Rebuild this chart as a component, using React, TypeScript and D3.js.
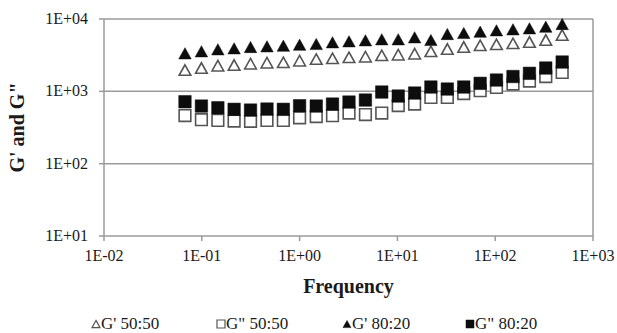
import React from "react";
import * as d3 from "d3";

// frequency values (x)
const frequency = [
  0.0673, 0.0991, 0.146, 0.214, 0.315, 0.464, 0.682, 1.0, 1.48, 2.17, 3.2, 4.71,
  6.92, 10.2, 15.0, 22.0, 32.4, 47.7, 70.2, 103, 152, 224, 329, 484,
];

const gPrime5050 = [
  1971, 2101, 2260, 2311, 2408, 2487, 2518, 2650, 2797, 2860, 2953, 3010,
  3147, 3208, 3312, 3575, 3847, 4100, 4327, 4468, 4612, 4808, 5124, 6006,
];
const gDouble5050 = [
  463, 405, 397, 388, 385, 397, 397, 431, 448, 460, 501, 478,
  501, 636, 667, 823, 823, 932, 1019, 1132, 1262, 1388, 1602, 1826,
];
const gPrime8020 = [
  3355, 3575, 3810, 3932, 4100, 4193, 4274, 4412, 4512, 4762, 4917, 5076,
  5240, 5240, 5584, 5124, 6201, 6403, 6673, 6977, 7202, 7436, 7826, 8526,
];
const gDouble8020 = [
  718, 626, 593, 564, 551, 569, 564, 632, 626, 667, 711, 758,
  978, 861, 947, 1147, 1076, 1147, 1290, 1433, 1602, 1774, 2101, 2543,
];

const xTicks = [0.01, 0.1, 1, 10, 100, 1000];
const xTickLabels = ["1E-02", "1E-01", "1E+00", "1E+01", "1E+02", "1E+03"];
const yTicks = [10, 100, 1000, 10000];
const yTickLabels = ["1E+01", "1E+02", "1E+03", "1E+04"];

const W = 617;
const H = 333;
const plot = { left: 104, top: 19, right: 593, bottom: 236 };
const serif = "Liberation Serif";
const gridColor = "#9a9a9a";
const ink = "#1a1a1a";

// triangle centred on its bounding box, like the spreadsheet markers
const triangleBox = {
  draw(context: any, size: number) {
    const w = Math.sqrt(size);
    const h = w * 0.9;
    context.moveTo(0, -h / 2);
    context.lineTo(w / 2, h / 2);
    context.lineTo(-w / 2, h / 2);
    context.closePath();
  },
};

const series = [
  { name: "G' 50:50", values: gPrime5050, shape: triangleBox, filled: false },
  { name: 'G" 50:50', values: gDouble5050, shape: d3.symbolSquare, filled: false },
  { name: "G' 80:20", values: gPrime8020, shape: triangleBox, filled: true },
  { name: 'G" 80:20', values: gDouble8020, shape: d3.symbolSquare, filled: true },
];

const App = () => {
  const x = d3.scaleLog().domain([0.01, 1000]).range([plot.left, plot.right]);
  const y = d3.scaleLog().domain([10, 10000]).range([plot.bottom, plot.top]);

  const markerPath = (shape: any, size: number) => d3.symbol().type(shape).size(size)() || "";

  const legendX = [96, 221, 347, 470];
  const txt = { fontFamily: serif };

  return (
    <svg width={W} height={H} style={{ position: "fixed", left: 0, top: 0, background: "#fff" }}>
      <rect width={W} height={H} fill="#fff" />

      {/* horizontal grid lines */}
      {yTicks.map((t) => (
        <line key={"g" + t} x1={plot.left} x2={plot.right} y1={y(t)} y2={y(t)} stroke={gridColor} strokeWidth={1.5} />
      ))}
      {/* plot border */}
      <line x1={plot.right} x2={plot.right} y1={plot.top} y2={plot.bottom} stroke={gridColor} strokeWidth={1.5} />
      <line x1={plot.left} x2={plot.left} y1={plot.top} y2={plot.bottom} stroke={gridColor} strokeWidth={1.5} />

      {/* y axis ticks and labels */}
      {yTicks.map((t, i) => (
        <g key={"y" + t}>
          <line x1={plot.left - 5} x2={plot.left} y1={y(t)} y2={y(t)} stroke={gridColor} strokeWidth={1.5} />
          <text x={88} y={y(t) + 5} textAnchor="end" fontSize={16} fill={ink} style={txt}>
            {yTickLabels[i]}
          </text>
        </g>
      ))}

      {/* x axis ticks and labels */}
      {xTicks.map((t, i) => (
        <g key={"x" + t}>
          <line x1={x(t)} x2={x(t)} y1={plot.bottom} y2={plot.bottom + 5} stroke={gridColor} strokeWidth={1.5} />
          <text x={x(t)} y={261} textAnchor="middle" fontSize={16} fill={ink} style={txt}>
            {xTickLabels[i]}
          </text>
        </g>
      ))}

      {/* markers */}
      {series.map((s) => (
        <g key={s.name}>
          {s.values.map((v, i) => (
            <path
              key={i}
              d={markerPath(s.shape, s.filled ? 156 : 136)}
              transform={`translate(${x(frequency[i])},${y(v)})`}
              fill={s.filled ? "#0d0d0d" : "#fff"}
              stroke={s.filled ? "#0d0d0d" : "#555"}
              strokeWidth={s.filled ? 0.5 : 1.6}
            />
          ))}
        </g>
      ))}

      {/* axis titles */}
      <text x={(plot.left + plot.right) / 2} y={293} textAnchor="middle" fontSize={20} fontWeight="bold" fill={ink} style={txt}>
        Frequency
      </text>
      <text
        transform={`translate(24,${(plot.top + plot.bottom) / 2}) rotate(-90)`}
        textAnchor="middle"
        fontSize={20}
        fontWeight="bold"
        fill={ink}
        style={txt}
      >
        G' and G"
      </text>

      {/* legend */}
      {series.map((s, i) => (
        <g key={"l" + s.name}>
          <path
            d={markerPath(s.shape, 64)}
            transform={`translate(${legendX[i]},${324})`}
            fill={s.filled ? "#0d0d0d" : "#fff"}
            stroke={s.filled ? "#0d0d0d" : "#555"}
            strokeWidth={s.filled ? 0.5 : 1.2}
          />
          <text x={legendX[i] + 5} y={329} fontSize={17} fill={ink} style={txt}>
            {s.name}
          </text>
        </g>
      ))}
    </svg>
  );
};

export default App;
